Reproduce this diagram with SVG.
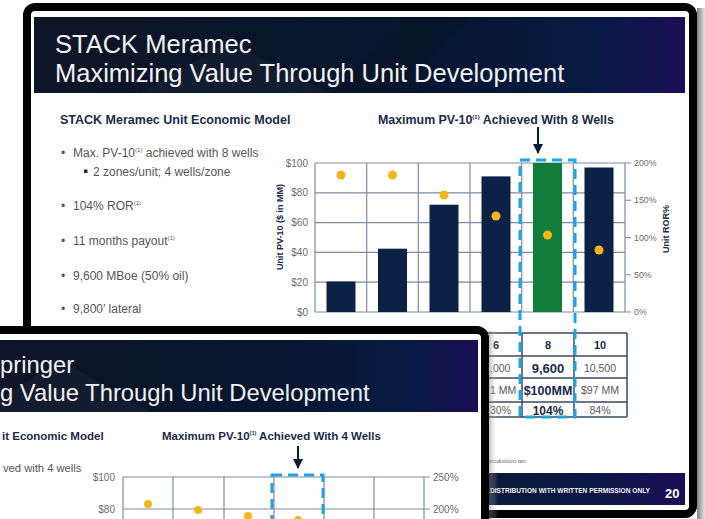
<svg xmlns="http://www.w3.org/2000/svg" width="705" height="519" viewBox="0 0 705 519">
<defs>
<style>
text{font-family:"Liberation Sans",Arial,sans-serif}
.hd{fill:#f2f2f2;font-size:25.5px}
.hd2{fill:#f2f2f2;font-size:23.8px}
.ttl{fill:#1b2a4a;font-weight:bold}
.bul{fill:#555;font-size:12px}
.ax{fill:#6a6a6a;font-size:10px}
.axr{fill:#6a6a6a;font-size:8.8px}
.axt{fill:#1b2a4a;font-size:9px;font-weight:bold}
.grid{stroke:#7f8ba3;stroke-width:1.2;fill:none}
.bar{fill:#0b2146}
.dot{fill:#f5b51a}
.dash{fill:none;stroke:#1fa3e3;stroke-width:3;stroke-dasharray:10 6}
.tl{stroke:#3c4a64;stroke-width:1.5;fill:none}
.tb{fill:#1b2a4a;font-weight:bold;text-anchor:middle}
.tn{fill:#5a5a5a;font-size:10.5px;text-anchor:middle}
.tnl{fill:#5a5a5a;font-size:10.5px;text-anchor:start}
.conn{stroke:#0b1c3a;stroke-width:2;fill:none}
</style>
<linearGradient id="hg" x1="0" y1="0" x2="1" y2="0">
<stop offset="0" stop-color="#0e1526"/>
<stop offset="0.6" stop-color="#061630"/>
<stop offset="0.85" stop-color="#071a42"/>
<stop offset="1" stop-color="#1b0f56"/>
</linearGradient>
<linearGradient id="fg" x1="0" y1="0" x2="1" y2="0">
<stop offset="0" stop-color="#0a1a36"/>
<stop offset="0.6" stop-color="#0b1745"/>
<stop offset="1" stop-color="#1c0f58"/>
</linearGradient>
<linearGradient id="sh" x1="0" y1="0" x2="1" y2="0">
<stop offset="0" stop-color="#808080"/>
<stop offset="1" stop-color="#e6e6e6"/>
</linearGradient>
<linearGradient id="sh2" x1="0" y1="0" x2="1" y2="0">
<stop offset="0" stop-color="#6f6f6f" stop-opacity="0.45"/>
<stop offset="1" stop-color="#ffffff" stop-opacity="0"/>
</linearGradient>
<marker id="ah" markerWidth="10" markerHeight="10" refX="9" refY="5" orient="auto" markerUnits="userSpaceOnUse" viewBox="0 0 10 10">
<path d="M0,0 L10,5 L0,10 z" fill="#0b1c3a"/>
</marker>
</defs>

<rect x="0" y="0" width="705" height="519" fill="#ffffff"/>

<!-- top slide -->
<g id="slide-top">
<rect x="697" y="8" width="8" height="511" fill="url(#sh)"/>
<rect x="27" y="7" width="666" height="507" rx="8" fill="#ffffff" stroke="#000" stroke-width="8"/>
<g id="top-header">
<rect x="34" y="17" width="651" height="76" fill="url(#hg)"/>
<polygon points="140,93 228,42 330,93" fill="#1a2336" opacity="0.55"/>
<polygon points="330,93 410,17 470,17 390,93" fill="#0a1222" opacity="0.4"/>
<text class="hd" x="55" y="53">STACK Meramec</text>
<text class="hd" x="55" y="82">Maximizing Value Through Unit Development</text>
</g>
<g id="top-bullets">
<text class="ttl" x="60" y="124" font-size="12.5">STACK Meramec Unit Economic Model</text>
<text class="bul" x="61" y="157">•</text>
<text class="bul" x="73" y="157">Max. PV-10<tspan font-size="6" dy="-5">(1)</tspan><tspan dy="5"> achieved with 8 wells</tspan></text>
<rect x="84" y="169.5" width="3.5" height="3.5" fill="#1b2a4a"/>
<text class="bul" x="93" y="176">2 zones/unit; 4 wells/zone</text>
<text class="bul" x="61" y="210">•</text>
<text class="bul" x="73" y="210">104% ROR<tspan font-size="6" dy="-5">(1)</tspan></text>
<text class="bul" x="61" y="245">•</text>
<text class="bul" x="73" y="245">11 months payout<tspan font-size="6" dy="-5">(1)</tspan></text>
<text class="bul" x="61" y="280">•</text>
<text class="bul" x="73" y="280">9,600 MBoe (50% oil)</text>
<text class="bul" x="61" y="313">•</text>
<text class="bul" x="73" y="313">9,800’ lateral</text>
</g>
<g id="top-chart">
<text class="ttl" x="378" y="124" font-size="12.4">Maximum PV-10<tspan font-size="6" dy="-5">(1)</tspan><tspan dy="5"> Achieved With 8 Wells</tspan></text>
<path class="grid" d="M315,163H625M315,192.8H625M315,222.6H625M315,252.4H625M315,282.2H625M315,312H625"/>
<path class="grid" d="M315,163V312M366.7,163V312M418.3,163V312M470,163V312M521.7,163V312M573.3,163V312M625,163V312"/>
<path class="grid" d="M625,163H631M625,200.25H631M625,237.5H631M625,274.75H631M625,312H631"/>
<rect class="bar" x="326.5" y="281.5" width="29" height="30.5"/>
<rect class="bar" x="378" y="248.7" width="29" height="63.3"/>
<rect class="bar" x="429.5" y="204.7" width="29" height="107.3"/>
<rect class="bar" x="481.5" y="176.4" width="29" height="135.6"/>
<rect x="533" y="163" width="29" height="149" fill="#127d3b"/>
<rect class="bar" x="584.5" y="167.5" width="29" height="144.5"/>
<circle class="dot" cx="341" cy="175" r="4.5"/>
<circle class="dot" cx="392.5" cy="175" r="4.5"/>
<circle class="dot" cx="444" cy="195" r="4.5"/>
<circle class="dot" cx="496" cy="216" r="4.5"/>
<circle class="dot" cx="547.5" cy="235" r="4.5"/>
<circle class="dot" cx="599" cy="250" r="4.5"/>
<g text-anchor="end">
<text class="ax" x="308" y="166.5">$100</text>
<text class="ax" x="308" y="196.3">$80</text>
<text class="ax" x="308" y="226.1">$60</text>
<text class="ax" x="308" y="255.9">$40</text>
<text class="ax" x="308" y="285.7">$20</text>
<text class="ax" x="308" y="315.5">$0</text>
</g>
<text class="axr" x="634" y="166">200%</text>
<text class="axr" x="634" y="203.3">150%</text>
<text class="axr" x="634" y="240.5">100%</text>
<text class="axr" x="634" y="277.8">50%</text>
<text class="axr" x="634" y="315">0%</text>
<text class="axt" transform="translate(283,227) rotate(-90)" text-anchor="middle">Unit PV-10 ($ in MM)</text>
<text class="axt" transform="translate(669,229) rotate(-90)" text-anchor="middle">Unit ROR%</text>
</g>
<g id="top-table">
<path class="tl" d="M460,333H627M460,356H627M460,378H627M460,402H627M460,417H627M522,333V417M574,333V417M627,333V417"/>
<text class="tb" x="496" y="349" font-size="11">6</text>
<text class="tb" x="548" y="349" font-size="11">8</text>
<text class="tb" x="600" y="349" font-size="11">10</text>
<text class="tnl" x="490" y="372">,000</text>
<text class="tb" x="548" y="372.5" font-size="13">9,600</text>
<text class="tn" x="600" y="372">10,500</text>
<text class="tnl" x="490" y="394">1 MM</text>
<text class="tb" x="548" y="395" font-size="12.5">$100MM</text>
<text class="tn" x="600" y="394">$97 MM</text>
<text class="tnl" x="490" y="414">30%</text>
<text class="tb" x="548" y="414.5" font-size="12">104%</text>
<text class="tn" x="600" y="414">84%</text>
</g>
<rect class="dash" x="520" y="160" width="55" height="257"/>
<g id="top-footer">
<text x="488" y="463" font-size="6" fill="#666">production tax</text>
<rect x="460" y="473" width="225" height="32" fill="url(#fg)"/>
<text x="490" y="493" font-size="6.5" font-weight="bold" fill="#f2f2f2" textLength="160" lengthAdjust="spacingAndGlyphs">DISTRIBUTION WITH WRITTEN PERMISSION ONLY</text>
<text x="665" y="498" font-size="13" font-weight="bold" fill="#ffffff">20</text>
</g>
</g>

<!-- bottom slide -->
<g id="slide-bottom">
<rect x="489" y="331" width="9" height="188" fill="url(#sh2)"/>
<rect x="-16" y="330" width="501" height="300" rx="8" fill="#ffffff" stroke="#000" stroke-width="8"/>
<g id="bottom-header">
<rect x="-20" y="340" width="498" height="72" fill="url(#hg)"/>
<polygon points="-20,412 60,360 150,412" fill="#1a2336" opacity="0.5"/>
<text class="hd2" x="0" y="373">pringer</text>
<text class="hd2" x="0" y="401">g Value Through Unit Development</text>
</g>
<g id="bottom-content">
<text class="ttl" x="2" y="440" font-size="11.5">it Economic Model</text>
<text x="3" y="472" font-size="11.2" fill="#555">ved with 4 wells</text>
<text class="ttl" x="162" y="440" font-size="11.5">Maximum PV-10<tspan font-size="5.5" dy="-5">(1)</tspan><tspan dy="5"> Achieved With 4 Wells</tspan></text>
</g>
<g id="bottom-chart">
<path class="grid" d="M123,477H424M123,509H424"/>
<path class="grid" d="M123,477V519M173,477V519M224,477V519M274,477V519M324,477V519M374,477V519M424,477V519"/>
<path class="grid" d="M424,477H430M424,509H430"/>
<text class="ax" x="115" y="480.5" font-size="9" text-anchor="end">$100</text>
<text class="ax" x="115" y="512.5" font-size="9" text-anchor="end">$80</text>
<text class="ax" x="433" y="480.5" font-size="9">250%</text>
<text class="ax" x="433" y="512.5" font-size="9">200%</text>
<circle class="dot" cx="148" cy="504" r="4"/>
<circle class="dot" cx="198" cy="510" r="4"/>
<circle class="dot" cx="248" cy="516" r="4"/>
<circle class="dot" cx="298" cy="520" r="4"/>
<rect class="dash" x="272" y="475" width="51" height="70"/>
</g>
</g>

<g id="connectors">
<line class="conn" x1="538" y1="127" x2="538" y2="153" marker-end="url(#ah)"/>
<line class="conn" x1="298" y1="446" x2="298" y2="468" marker-end="url(#ah)"/>
</g>
</svg>
